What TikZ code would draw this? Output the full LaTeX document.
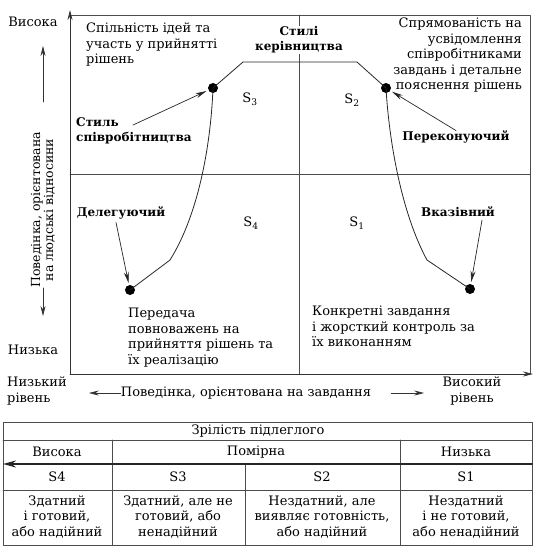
\documentclass[tikz,border=0pt]{standalone}
\usepackage{fontspec}
\setmainfont{DejaVu Serif}
\usetikzlibrary{arrows.meta,positioning}

\newcommand{\mainsize}{\fontsize{13}{15.5}\selectfont}
\newcommand{\boldsize}{\fontsize{12}{15}\selectfont}

\tikzset{
  frame/.style={line width=0.8pt, black!70},
  curveline/.style={line width=0.8pt, black!85},
  dot/.style={circle, fill=black, inner sep=0pt, minimum size=10pt},
  pointer/.style={line width=0.7pt, black!85, -{Stealth[length=11pt,width=5pt]}, shorten >=2pt},
  axisarrow/.style={line width=0.7pt, black!80, -{Stealth[length=10pt,width=5pt]}},
  txt/.style={inner sep=0pt, align=left, text=black, font=\mainsize},
  boldtxt/.style={inner sep=0pt, align=left, text=black, font=\boldsize\bfseries},
  cell/.style={inner sep=0pt, align=center, text=black, font=\mainsize}
}

\begin{document}
\begin{tikzpicture}[x=1pt, y=-1pt, line join=round, line cap=round]
    \useasboundingbox (0,0) rectangle (541,550);

    % axes and frame
    \coordinate (origin) at (70,374);
    \draw[frame] (70,15) -- (530,15) -- (530,374);
    \draw[frame] (299,15) -- (299,374);
    \draw[frame] (70,174) -- (530,174);
    \draw[axisarrow] (origin) -- (70,10);
    \draw[axisarrow] (origin) -- (533,374);

    % bends of the style curve
    \coordinate (bendfour) at (170,260);
    \coordinate (bendthree) at (243,62);
    \coordinate (bendtwo) at (357,62);
    \coordinate (bendone) at (427,260);

    \node[dot] (dotfour) at (130,290) {};
    \node[dot] (dotthree) at (213,88) {};
    \node[dot] (dottwo) at (386,88) {};
    \node[dot] (dotone) at (470,289) {};

    \draw[curveline] (dotfour.center) -- (bendfour) .. controls (200,212) and (211,140) .. (dotthree.center)
        -- (bendthree) -- (bendtwo) -- (dottwo.center) .. controls (389,140) and (401,212) .. (bendone)
        -- (dotone.center);

    \node[boldtxt, align=center, fill=white, inner sep=1pt] (styles) at (299,40) {Стилі\\керівництва};

    % quadrant labels
    \node[txt] (sthree) at (250,99) {S\textsubscript{3}};
    \node[txt] (stwo) at (352,100) {S\textsubscript{2}};
    \node[txt] (sfour) at (251,223) {S\textsubscript{4}};
    \node[txt] (sone) at (357,223) {S\textsubscript{1}};

    \node[txt, anchor=north west] (ideas) at (86,23) {Спільність ідей та\\участь у прийнятті\\рішень};
    \node[txt, align=right, anchor=north east] (explain) at (522,18) {Спрямованість на\\усвідомлення\\співробітниками\\завдань і детальне\\пояснення рішень};
    \node[txt, anchor=north west] (handover) at (128,308) {Передача\\повноважень на\\прийняття рішень та\\їх реалізацію};
    \node[txt, anchor=north west] (control) at (312,306) {Конкретні завдання\\і жорсткий контроль за\\їх виконанням};

    % style names
    \node[boldtxt, anchor=north west] (collab) at (76,117) {Стиль\\співробітництва};
    \node[boldtxt] (persuade) at (456,137) {Переконуючий};
    \node[boldtxt] (deleg) at (121,213) {Делегуючий};
    \node[boldtxt] (direct) at (458,212) {Вказівний};

    \coordinate (collabtail) at (133,125);
    \draw[pointer] (collabtail) -- (dotthree);
    \draw[pointer] (persuade.north) -- (dottwo);
    \draw[pointer] ([xshift=-5pt,yshift=-3pt]deleg.south) -- (dotfour);
    \draw[pointer] ([xshift=24pt,yshift=-3pt]direct.south) -- (dotone);

    % vertical axis captions
    \node[txt] (high) at (33,22) {Висока};
    \node[txt] (low) at (33,350) {Низька};
    \node[txt, align=center, rotate=90, font=\fontsize{12.5}{13}\selectfont] (peoplerel) at (43,210) {Поведінка, орієнтована\\на людські відносини};
    \draw[axisarrow] ([yshift=30pt]peoplerel.east) -- ([yshift=86pt]peoplerel.east);
    \draw[axisarrow] (peoplerel.west) -- ([yshift=-28pt]peoplerel.west);

    % horizontal axis captions
    \node[txt, anchor=west] (lowlevel) at (7,391) {Низький\\рівень};
    \node[txt] (taskrel) at (246,393) {Поведінка, орієнтована на завдання};
    \node[txt, align=center] (highlevel) at (472,391) {Високий\\рівень};
    \draw[axisarrow] (taskrel.west) -- ([xshift=-32pt]taskrel.west);
    \draw[axisarrow] ([xshift=20pt]taskrel.east) -- ([xshift=53pt]taskrel.east);

    % maturity table
    \draw[frame] (3,422) rectangle (532,545);
    \draw[frame] (3,440) -- (532,440);
    \draw[frame] (3,490) -- (532,490);
    \draw[frame] (112,440) -- (112,545);
    \draw[frame] (400,440) -- (400,545);
    \draw[frame] (245,464) -- (245,545);
    \draw[line width=2pt, black!85, -{Stealth[length=13pt,width=7pt]}] (532,464) -- (3,464);

    \node[cell] (maturity) at (258,431) {Зрілість підлеглого};
    \node[cell] (mhigh) at (57,452) {Висока};
    \node[cell] (mmid) at (256,452) {Помірна};
    \node[cell] (mlow) at (466,452) {Низька};
    \node[cell] (cfour) at (57,477) {S4};
    \node[cell] (cthree) at (178,477) {S3};
    \node[cell] (ctwo) at (322,477) {S2};
    \node[cell] (cone) at (466,477) {S1};
    \node[cell] (rfour) at (57,517) {Здатний\\і готовий,\\або надійний};
    \node[cell] (rthree) at (178,517) {Здатний, але не\\готовий, або\\ненадійний};
    \node[cell] (rtwo) at (322,517) {Нездатний, але\\виявляє готовність,\\або надійний};
    \node[cell] (rone) at (466,517) {Нездатний\\і не готовий,\\або ненадійний};
\end{tikzpicture}
\end{document}
